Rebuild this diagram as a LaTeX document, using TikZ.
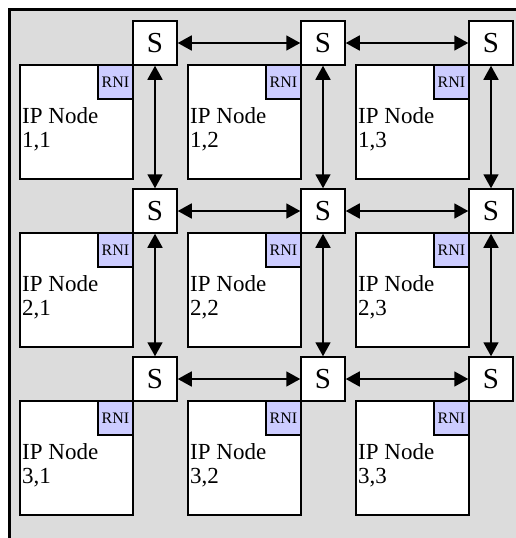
\documentclass[tikz,border=0pt]{standalone}
\usepackage{fontspec}
\setmainfont{Liberation Serif}
\usetikzlibrary{arrows.meta}
\definecolor{bggray}{RGB}{220,220,220}
\definecolor{rniblue}{RGB}{204,204,255}

\begin{document}
\begin{tikzpicture}
			[x=1pt,y=-1pt,
			 frame/.style={line width=2.6pt,draw=black,fill=bggray},
			 ipnode/.style={draw,line width=1.5pt,fill=white,minimum width=113pt,minimum height=114pt,inner sep=0pt},
			 rni/.style={draw,line width=1.5pt,fill=rniblue,minimum width=35pt,minimum height=34pt,inner sep=0pt,font=\fontsize{16}{18}\selectfont},
			 switch/.style={draw,line width=1.5pt,fill=white,minimum width=44pt,minimum height=44pt,inner sep=0pt,font=\fontsize{29}{32}\selectfont},
			 iptext/.style={anchor=north west,align=left,inner sep=0pt,font=\fontsize{23}{24}\selectfont},
			 link/.style={line width=1.7pt,{Triangle[length=14pt,width=15pt]}-{Triangle[length=14pt,width=15pt]}}]

			\useasboundingbox (0,0) rectangle (516,538);
			\clip (0,0) rectangle (516,538);
			\draw[frame] (9.3,9.3) rectangle (540,560);

			\foreach \row in {1,2,3} {
				\foreach \col in {1,2,3} {
					\node[ipnode] (ip\row\col) at (76.5+168*\col-168,122+168*\row-168) {};
					\node[rni] (rni\row\col) at (115.5+168*\col-168,82+168*\row-168) {RNI};
					\node[switch] (s\row\col) at (155+168*\col-168,43+168*\row-168) {S};
					\node[iptext] (t\row\col) at (22+168*\col-168,107+168*\row-168) {IP Node\\\row,\col};
				}
			}

			\foreach \row in {1,2,3} {
				\draw[link] (s\row1) -- (s\row2);
				\draw[link] (s\row2) -- (s\row3);
			}
			\foreach \col in {1,2,3} {
				\draw[link] (s1\col) -- (s2\col);
				\draw[link] (s2\col) -- (s3\col);
			}
		\end{tikzpicture}
\end{document}
